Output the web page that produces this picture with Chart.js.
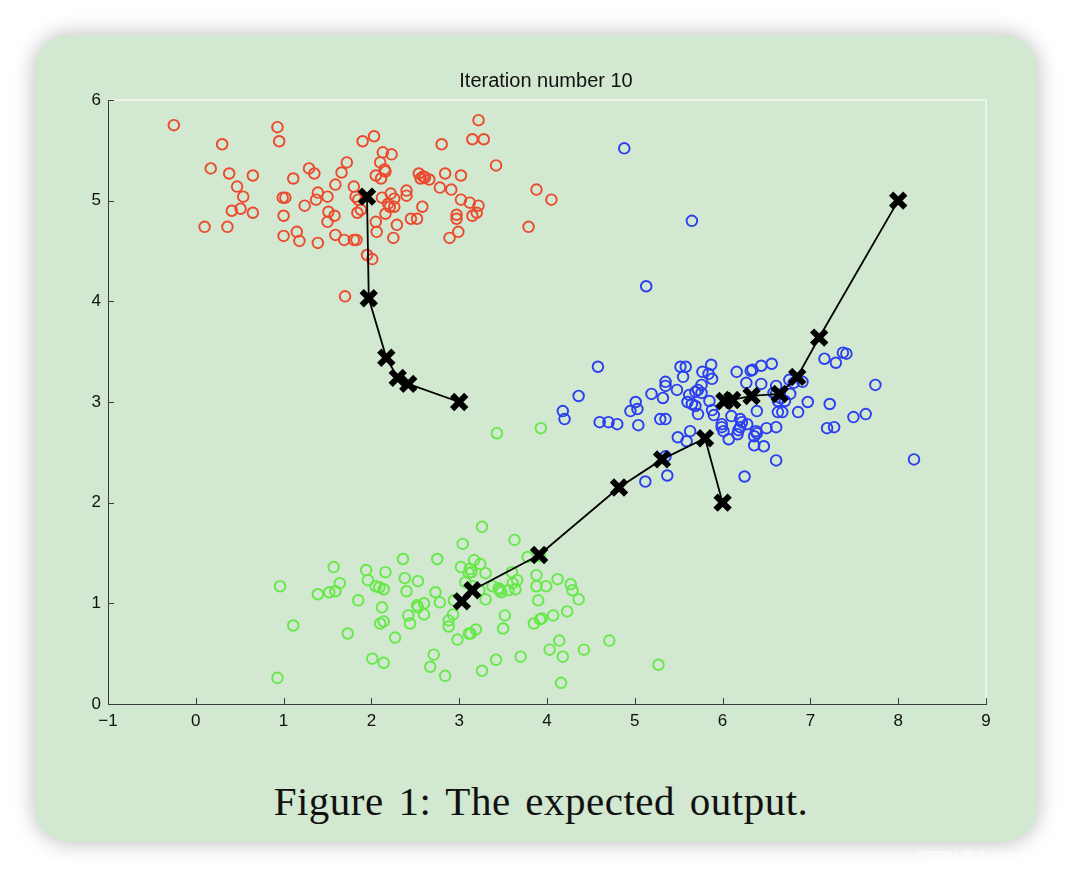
<!DOCTYPE html>
<html>
<head>
<meta charset="utf-8">
<script src="https://cdn.jsdelivr.net/npm/chart.js@4/dist/chart.umd.min.js"></script>
<style>
  html, body { margin: 0; padding: 0; width: 1072px; height: 878px; overflow: hidden; background: #ffffff; }
  #card { position: absolute; left: 35px; top: 35px; width: 1002px; height: 807px; border-radius: 34px;
          background: #d2e8d0; box-shadow: 0 0 22px rgba(0,0,0,0.28); }
  #wrap { position: absolute; left: 10px; top: 0; width: 1072px; height: 878px; }
  #caption { position: absolute; left: 0; width: 1082px; top: 777px; text-align: center;
             font-family: "Liberation Serif", "Times New Roman", serif; font-size: 41px; color: #111;
             letter-spacing: 0.5px; word-spacing: 4px; line-height: 48px; }
  #wm { position: absolute; left: 917px; top: 848px; font-family: "Liberation Sans", Arial, sans-serif;
        font-size: 14px; color: rgba(255,255,255,0.85); }
</style>
</head>
<body>
<div id="card"></div>
<div id="caption">Figure 1: The expected output.</div>
<div id="wrap"><canvas id="c" width="1072" height="878"></canvas></div>
<div id="wm">CSDN @Jimmy Ding</div>
<script>
const titleText = 'Iteration number 10';
const xTickValues = [-1, 0, 1, 2, 3, 4, 5, 6, 7, 8, 9];
const xTickLabels = ['\u22121', '0', '1', '2', '3', '4', '5', '6', '7', '8', '9'];
const yTickValues = [0, 1, 2, 3, 4, 5, 6];
const yTickLabels = ['0', '1', '2', '3', '4', '5', '6'];

const redX = [-0.25,0.93,0.95,0.30,1.90,2.03,2.13,2.23,1.72,2.10,2.15,2.16,2.05,2.11,0.17,0.38,0.65,1.11,1.29,1.35,1.66,1.59,1.80,0.47,0.54,0.99,1.02,1.39,1.37,1.50,1.82,1.85,2.12,2.22,2.26,2.19,2.21,1.24,0.41,0.51,0.65,1.00,1.51,1.58,1.50,1.84,1.88,2.16,2.05,2.29,0.10,0.36,1.00,1.15,1.18,1.39,1.59,1.69,1.80,1.83,2.06,2.25,1.95,2.01,1.70,3.22,2.80,3.15,3.28,3.42,2.54,2.59,2.61,2.66,2.56,2.84,3.02,2.40,2.40,2.78,2.91,3.02,3.12,3.22,3.15,3.20,2.97,2.97,2.58,2.45,2.52,3.88,4.05,3.79,2.26,2.89,2.99];
const redY = [5.75,5.73,5.59,5.56,5.59,5.64,5.48,5.46,5.38,5.38,5.31,5.29,5.25,5.22,5.32,5.27,5.25,5.22,5.32,5.27,5.28,5.16,5.14,5.14,5.04,5.03,5.03,5.08,5.01,5.04,5.04,5.01,5.03,5.07,5.02,4.97,4.94,4.95,4.90,4.92,4.88,4.85,4.89,4.85,4.79,4.88,4.91,4.87,4.79,4.76,4.74,4.74,4.65,4.69,4.60,4.58,4.66,4.61,4.61,4.61,4.69,4.63,4.46,4.42,4.05,5.80,5.56,5.61,5.61,5.35,5.27,5.24,5.23,5.21,5.22,5.27,5.25,5.10,5.05,5.13,5.11,5.01,4.98,4.95,4.85,4.88,4.86,4.82,4.94,4.82,4.82,5.11,5.01,4.74,4.94,4.63,4.69];

const blueX = [4.88,5.65,5.13,4.58,4.36,4.18,4.20,4.60,4.70,4.80,5.04,5.01,4.95,5.03,5.19,5.32,5.35,5.35,5.48,5.29,5.35,5.52,5.58,5.55,5.62,5.60,5.65,5.69,5.72,5.69,5.72,5.76,5.76,5.77,5.87,5.84,5.88,5.85,5.88,5.90,5.49,5.59,5.63,5.35,5.37,5.12,5.99,5.99,6.01,6.07,6.10,6.20,6.22,6.28,6.18,6.20,6.17,6.39,6.38,6.36,6.39,6.36,6.47,6.50,6.61,6.61,6.25,6.16,6.27,6.32,6.34,6.44,6.56,6.44,6.61,6.61,6.63,6.63,6.58,6.66,6.71,6.77,6.76,6.81,6.91,6.68,6.86,6.97,7.22,7.16,7.29,7.37,7.41,7.74,7.49,7.63,7.19,7.27,8.18];
const blueY = [5.52,4.80,4.15,3.35,3.06,2.91,2.83,2.80,2.80,2.78,2.77,3.00,2.91,2.93,3.08,3.04,3.20,3.16,3.12,2.83,2.83,3.35,3.35,3.25,3.07,3.00,2.98,2.96,2.88,3.10,3.12,3.17,3.09,3.30,3.37,3.28,3.23,3.01,2.92,2.87,2.65,2.61,2.71,2.46,2.27,2.21,2.78,2.75,2.71,2.63,2.86,2.83,2.80,2.78,2.72,2.75,2.68,2.91,2.71,2.66,2.69,2.57,2.56,2.74,2.75,2.42,2.26,3.30,3.19,3.31,3.32,3.36,3.38,3.18,3.16,3.08,3.01,2.90,3.09,3.04,3.01,3.08,3.22,3.19,3.20,2.90,2.90,3.00,2.98,3.43,3.39,3.49,3.48,3.17,2.85,2.88,2.74,2.75,2.43];

const greenX = [3.26,3.04,2.36,2.75,1.57,1.94,2.16,1.96,1.64,0.96,1.39,1.52,1.59,2.05,2.09,2.14,2.38,2.53,2.40,2.73,2.78,1.85,2.12,2.10,2.14,2.52,2.53,2.60,2.60,2.42,2.44,1.73,1.11,2.27,2.01,2.14,0.93,2.71,2.67,2.84,2.88,2.88,2.93,2.98,3.11,3.13,3.19,3.26,3.42,3.02,3.12,3.14,3.17,3.24,3.30,3.11,3.07,3.15,3.38,3.30,3.23,3.45,2.94,3.63,3.78,3.92,3.60,3.66,3.61,3.46,3.48,3.56,3.64,3.88,3.88,3.99,3.90,4.12,4.27,4.29,4.36,3.52,3.50,3.85,3.92,3.94,4.07,4.23,4.14,4.03,4.18,4.42,4.71,3.70,4.16,3.43,3.93,5.27];
const greenY = [1.76,1.59,1.44,1.44,1.36,1.33,1.31,1.23,1.20,1.17,1.09,1.11,1.12,1.17,1.16,1.14,1.25,1.22,1.12,1.11,1.01,1.03,0.96,0.80,0.82,0.98,0.96,1.00,0.89,0.88,0.80,0.70,0.78,0.66,0.45,0.41,0.26,0.49,0.37,0.28,0.83,0.77,0.89,0.64,0.70,0.70,0.74,0.33,0.44,1.36,1.34,1.31,1.43,1.39,1.30,1.30,1.21,1.17,1.17,1.04,1.13,1.15,1.03,1.63,1.46,1.47,1.31,1.23,1.20,1.13,1.11,1.13,1.14,1.28,1.17,1.17,1.03,1.24,1.19,1.13,1.04,0.88,0.75,0.80,0.84,0.85,0.88,0.92,0.63,0.54,0.47,0.54,0.63,0.47,0.21,2.69,2.74,0.39];

const path1X = [3.00, 2.42, 2.30, 2.17, 1.97, 1.95];
const path1Y = [3.00, 3.18, 3.24, 3.44, 4.03, 5.04];
const path2X = [6.00, 5.80, 5.31, 4.82, 3.91, 3.15, 3.03];
const path2Y = [2.00, 2.64, 2.43, 2.15, 1.48, 1.13, 1.02];
const path3X = [8.00, 7.10, 6.85, 6.65, 6.33, 6.11, 6.02];
const path3Y = [5.00, 3.64, 3.25, 3.08, 3.06, 3.02, 3.01];

const zip = (xs, ys) => xs.map((x, i) => ({ x: x, y: ys[i] }));

function scatterSet(xs, ys, color) {
  return { type: 'scatter', data: zip(xs, ys), borderColor: color, backgroundColor: 'rgba(0,0,0,0)',
           pointStyle: 'circle', pointRadius: 5.3, pointBorderWidth: 1.9, pointHoverRadius: 5.3, order: 1 };
}
function pathSet(xs, ys) {
  return { type: 'line', data: zip(xs, ys), showLine: true, borderColor: '#000', borderWidth: 1.8,
           backgroundColor: '#000', pointStyle: 'crossRot', pointRadius: 10, pointBorderWidth: 6,
           pointBorderColor: '#000', pointHoverRadius: 10, fill: false, tension: 0, order: 0 };
}

const frame = {
  id: 'frame',
  afterDraw(chart) {
    const ctx = chart.ctx, a = chart.chartArea;
    const xs = chart.scales.x, ys = chart.scales.y;
    ctx.save();
    ctx.strokeStyle = '#f2f9f0';
    ctx.lineWidth = 1.5;
    ctx.beginPath();
    ctx.moveTo(a.left, a.top); ctx.lineTo(a.right, a.top); ctx.lineTo(a.right, a.bottom);
    ctx.stroke();
    ctx.strokeStyle = '#3a3a3a';
    ctx.lineWidth = 1;
    ctx.beginPath();
    xTickValues.forEach(v => { const p = Math.round(xs.getPixelForValue(v)) + 0.5; ctx.moveTo(p, a.bottom); ctx.lineTo(p, a.bottom - 6); });
    yTickValues.forEach(v => { const p = Math.round(ys.getPixelForValue(v)) + 0.5; ctx.moveTo(a.left, p); ctx.lineTo(a.left + 6, p); });
    ctx.stroke();
    ctx.restore();
  }
};

const tickFont = { family: '"Liberation Sans", Arial, sans-serif', size: 17 };

new Chart(document.getElementById('c'), {
  data: {
    datasets: [
      scatterSet(redX, redY, '#ec4a2e'),
      scatterSet(blueX, blueY, '#2b3ff0'),
      scatterSet(greenX, greenY, '#67e84a'),
      pathSet(path1X, path1Y),
      pathSet(path2X, path2Y),
      pathSet(path3X, path3Y)
    ]
  },
  options: {
    responsive: false,
    animation: false,
    devicePixelRatio: 1,
    layout: { padding: 0 },
    plugins: {
      legend: { display: false },
      tooltip: { enabled: false },
      title: { display: true, text: titleText, color: '#111',
               font: { family: '"Liberation Sans", Arial, sans-serif', size: 20, weight: 'normal' },
               padding: { top: 69, bottom: 7 } }
    },
    scales: {
      x: { type: 'linear', position: 'bottom', min: -1, max: 9,
           afterBuildTicks: s => { s.ticks = xTickValues.map(v => ({ value: v })); },
           ticks: { font: tickFont, color: '#111', padding: 7, maxRotation: 0,
                    callback: (v, i) => xTickLabels[i] },
           grid: { display: true, drawOnChartArea: false, drawTicks: false },
           border: { display: true, color: '#3a3a3a', width: 1 },
           afterFit: s => { s.height = 174; } },
      y: { type: 'linear', position: 'left', min: 0, max: 6,
           afterBuildTicks: s => { s.ticks = yTickValues.map(v => ({ value: v })); },
           ticks: { font: tickFont, color: '#111', padding: 7,
                    callback: (v, i) => yTickLabels[i] },
           grid: { display: true, drawOnChartArea: false, drawTicks: false },
           border: { display: true, color: '#3a3a3a', width: 1 },
           afterFit: s => { s.width = 98; } },
      yR: { type: 'linear', position: 'right', display: true,
            ticks: { display: false },
            grid: { display: false, drawTicks: false },
            border: { display: false },
            afterFit: s => { s.width = 96; } },
      xT: { type: 'linear', position: 'top', display: true,
            ticks: { display: false },
            grid: { display: false, drawTicks: false },
            border: { display: false },
            afterFit: s => { s.height = 0; } }
    }
  },
  plugins: [frame]
});
</script>
</body>
</html>
